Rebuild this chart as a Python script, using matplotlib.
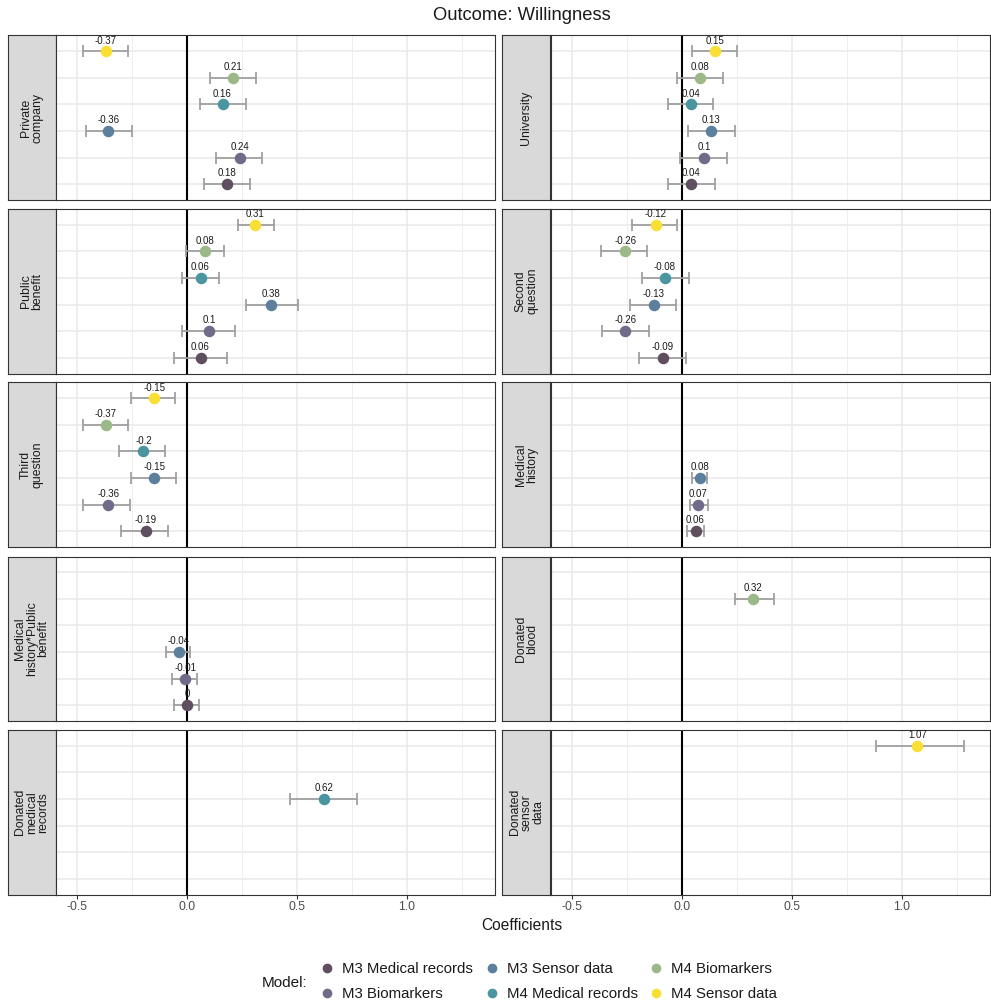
import numpy as np
import matplotlib
matplotlib.use("Agg")
import matplotlib.pyplot as plt
from matplotlib.lines import Line2D
from matplotlib.ticker import MultipleLocator

plt.rcParams["font.family"] = ["Liberation Sans", "DejaVu Sans"]
plt.rcParams["axes.unicode_minus"] = False

# ---- data -------------------------------------------------------------
models = ["M3 Medical records", "M3 Biomarkers", "M3 Sensor data",
          "M4 Medical records", "M4 Biomarkers", "M4 Sensor data"]
model_colors = ["#5f4e5f", "#6e6c89", "#5b7f9c", "#4a96a0", "#9ab888", "#f9df33"]

facets = ["Private\ncompany", "University", "Public\nbenefit", "Second\nquestion",
          "Third\nquestion", "Medical\nhistory", "Medical\nhistory*Public\nbenefit",
          "Donated\nblood", "Donated\nmedical\nrecords", "Donated\nsensor\ndata"]

nan = np.nan
# estimates, ordered as in `models`
est_private = [0.18, 0.24, -0.36, 0.16, 0.21, -0.37]
est_university = [0.04, 0.10, 0.13, 0.04, 0.08, 0.15]
est_public = [0.06, 0.10, 0.38, 0.06, 0.08, 0.31]
est_second = [-0.09, -0.26, -0.13, -0.08, -0.26, -0.12]
est_third = [-0.19, -0.36, -0.15, -0.20, -0.37, -0.15]
est_medhist = [0.06, 0.07, 0.08, nan, nan, nan]
est_medhist_pub = [0.00, -0.01, -0.04, nan, nan, nan]
est_blood = [nan, nan, nan, nan, 0.32, nan]
est_don_med = [nan, nan, nan, 0.62, nan, nan]
est_don_sensor = [nan, nan, nan, nan, nan, 1.07]

# lower confidence bounds
lo_private = [0.075, 0.132, -0.46, 0.059, 0.105, -0.473]
lo_university = [-0.065, -0.009, 0.026, -0.065, -0.024, 0.045]
lo_public = [-0.06, -0.023, 0.268, -0.023, -0.008, 0.23]
lo_second = [-0.197, -0.365, -0.238, -0.182, -0.37, -0.227]
lo_third = [-0.301, -0.474, -0.256, -0.309, -0.477, -0.256]
lo_medhist = [0.021, 0.035, 0.042, nan, nan, nan]
lo_medhist_pub = [-0.062, -0.07, -0.097, nan, nan, nan]
lo_blood = [nan, nan, nan, nan, 0.241, nan]
lo_don_med = [nan, nan, nan, 0.468, nan, nan]
lo_don_sensor = [nan, nan, nan, nan, nan, 0.88]

# upper confidence bounds
hi_private = [0.285, 0.34, -0.25, 0.268, 0.314, -0.268]
hi_university = [0.15, 0.205, 0.238, 0.14, 0.185, 0.249]
hi_public = [0.182, 0.218, 0.503, 0.145, 0.168, 0.395]
hi_second = [0.018, -0.15, -0.029, 0.029, -0.16, -0.023]
hi_third = [-0.086, -0.26, -0.051, -0.101, -0.268, -0.056]
hi_medhist = [0.1, 0.115, 0.114, nan, nan, nan]
hi_medhist_pub = [0.053, 0.044, 0.014, nan, nan, nan]
hi_blood = [nan, nan, nan, nan, 0.418, nan]
hi_don_med = [nan, nan, nan, 0.773, nan, nan]
hi_don_sensor = [nan, nan, nan, nan, nan, 1.28]

estimates = [est_private, est_university, est_public, est_second, est_third,
             est_medhist, est_medhist_pub, est_blood, est_don_med, est_don_sensor]
lowers = [lo_private, lo_university, lo_public, lo_second, lo_third,
          lo_medhist, lo_medhist_pub, lo_blood, lo_don_med, lo_don_sensor]
uppers = [hi_private, hi_university, hi_public, hi_second, hi_third,
          hi_medhist, hi_medhist_pub, hi_blood, hi_don_med, hi_don_sensor]

x_ticks = [-0.5, 0.0, 0.5, 1.0]
x_tick_labels = ["-0.5", "0.0", "0.5", "1.0"]

# ---- layout (pixel geometry) -----------------------------------------
W, H = 991, 1006
fig = plt.figure(figsize=(W / 100, H / 100), dpi=100)


def rect(x0, y0, x1, y1):
    return [x0 / W, 1 - y1 / H, (x1 - x0) / W, (y1 - y0) / H]


row_edges = [(35.5, 200), (209, 373.5), (382.5, 547), (556.5, 721), (730, 894.5)]
col_edges = [((8, 55.5), (55.5, 495)), ((502.5, 550.5), (550.5, 990))]

border = "#333333"
grid_col = "#EBEBEB"
levels = np.arange(1, len(models) + 1)


def fmt(v):
    s = f"{v:.2f}".rstrip("0").rstrip(".")
    return "0" if s in ("-0", "") else s


for i, label in enumerate(facets):
    r, c = divmod(i, 2)
    (sx0, sx1), (px0, px1) = col_edges[c]
    y0, y1 = row_edges[r]

    # strip on the left side
    sax = fig.add_axes(rect(sx0, y0, sx1, y1))
    sax.set_facecolor("#D9D9D9")
    sax.set_xticks([])
    sax.set_yticks([])
    for sp in sax.spines.values():
        sp.set_color(border)
        sp.set_linewidth(0.8)
    sax.text(0.5, 0.5, label, rotation=90, ha="center", va="center",
             multialignment="center", fontsize=8.8, color="#1A1A1A",
             linespacing=0.95, transform=sax.transAxes)

    ax = fig.add_axes(rect(px0, y0, px1, y1))
    ax.set_xlim(-0.6, 1.4)
    ax.set_ylim(0.4, 6.6)
    ax.xaxis.set_major_locator(MultipleLocator(0.5))
    ax.xaxis.set_minor_locator(MultipleLocator(0.25))
    ax.set_yticks(levels)
    ax.grid(True, which="major", color=grid_col, linewidth=1.2, zorder=0)
    ax.grid(True, which="minor", axis="x", color=grid_col, linewidth=0.6, zorder=0)
    ax.set_axisbelow(True)
    ax.tick_params(axis="y", length=0, labelleft=False)
    ax.tick_params(axis="x", which="minor", length=0)
    for sp in ax.spines.values():
        sp.set_color(border)
        sp.set_linewidth(0.8)
    if r == len(row_edges) - 1:
        ax.set_xticks(x_ticks)
        ax.set_xticklabels(x_tick_labels)
        ax.tick_params(axis="x", which="major", length=3, width=0.8,
                       color=border, labelsize=8.8, labelcolor="#4D4D4D", pad=2)
    else:
        ax.tick_params(axis="x", which="major", length=0, labelbottom=False)

    ax.axvline(0, color="black", linewidth=1.5, zorder=2)

    est = np.array(estimates[i], dtype=float)
    lo = np.array(lowers[i], dtype=float)
    hi = np.array(uppers[i], dtype=float)
    for k, lvl in enumerate(levels):
        if np.isnan(est[k]):
            continue
        ax.errorbar(est[k], lvl, xerr=[[est[k] - lo[k]], [hi[k] - est[k]]],
                    fmt="none", ecolor="#A0A0A0", elinewidth=1.3,
                    capsize=4, capthick=1.3, zorder=3)
        ax.plot(est[k], lvl, "o", color=model_colors[k], markersize=8.3,
                markeredgewidth=0, zorder=4)
        ax.annotate(fmt(est[k]), (est[k], lvl), xytext=(0, 5.5),
                    textcoords="offset points", ha="center", va="baseline",
                    fontsize=7, color="#1A1A1A", zorder=5)

# titles
fig.text(522 / W, 1 - 16 / H, "Outcome: Willingness", ha="center", va="center",
         fontsize=13.2, color="#1A1A1A")
fig.text(522 / W, 1 - 925 / H, "Coefficients", ha="center", va="center",
         fontsize=11.2, color="#1A1A1A")

# legend
handles = [Line2D([], [], linestyle="none", marker="o", markersize=7,
                  markeredgewidth=0, color=col) for col in model_colors]
fs = 10.8
fig.legend(handles, models, loc="upper left",
           bbox_to_anchor=(319.5 / W, 1 - 962 / H), ncol=3, frameon=False,
           fontsize=fs, handlelength=1.0, handletextpad=0.5,
           columnspacing=0.75, labelspacing=0.75, borderpad=0,
           borderaxespad=0, labelcolor="#1A1A1A")
fig.text(307 / W, 1 - 983 / H, "Model:", ha="right", va="center",
         fontsize=11, color="#1A1A1A")

fig.savefig("out.png", dpi=100, facecolor="white")
